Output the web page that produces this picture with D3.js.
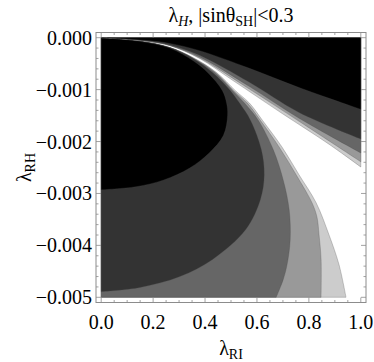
<!DOCTYPE html>
<html><head><meta charset="utf-8">
<script src="https://cdn.jsdelivr.net/npm/d3@7"></script>
<style>body{margin:0;background:#fff} text{font-family:"Liberation Serif","DejaVu Serif",serif}</style>
</head><body>
<script>
// ---- data ----
const xTicks = [0, 0.2, 0.4, 0.6, 0.8, 1.0];
const xTickLabels = ["0.0", "0.2", "0.4", "0.6", "0.8", "1.0"];
const yTicks = [0, -0.001, -0.002, -0.003, -0.004, -0.005];
const yTickLabels = ["0.000", "\u22120.001", "\u22120.002", "\u22120.003", "\u22120.004", "\u22120.005"];
const levelColors = ["#cccccc", "#999999", "#666666", "#333333", "#000000"]; // outer -> inner

// upper (top-right) family: lower boundary of each region, from origin to right edge
const upperCcc = [[0,0],[0.111,-0.00004],[0.188,-0.00008],[0.264,-0.00015],[0.379,-0.0004],[0.506,-0.00082],[0.697,-0.00146],[0.877,-0.00205],[1,-0.00249]];
const upper999 = [[0,0],[0.111,-0.00004],[0.188,-0.00008],[0.264,-0.00015],[0.379,-0.00039],[0.571,-0.00099],[0.762,-0.00161],[1,-0.00239]];
const upper666 = [[0,0],[0.111,-0.00003],[0.188,-0.00007],[0.264,-0.00015],[0.379,-0.00037],[0.571,-0.00094],[0.762,-0.00155],[1,-0.00222]];
const upper333 = [[0,0],[0.111,-0.00003],[0.188,-0.00007],[0.264,-0.00014],[0.379,-0.00034],[0.571,-0.00086],[0.762,-0.00144],[1,-0.00195]];
const upperBlack = [[0,0],[0.111,-0.00003],[0.188,-0.00006],[0.264,-0.00011],[0.379,-0.00025],[0.571,-0.00059],[0.762,-0.00096],[1,-0.00138]];

// lower (bottom-left) family: outer boundary of each region, from origin to bottom/left edge
const lowerCcc = [[0,0],[0.149,-0.00007],[0.264,-0.00019],[0.360,-0.0004],[0.444,-0.00067],[0.517,-0.00102],[0.571,-0.00126],[0.621,-0.00159],[0.697,-0.00211],[0.762,-0.00264],[0.828,-0.00318],[0.877,-0.00379],[0.916,-0.00437],[0.943,-0.005]];
const lower999 = [[0,0],[0.149,-0.00007],[0.264,-0.00019],[0.358,-0.0004],[0.441,-0.00067],[0.510,-0.00102],[0.563,-0.00126],[0.613,-0.00159],[0.686,-0.00211],[0.751,-0.00264],[0.812,-0.00318],[0.831,-0.00345],[0.839,-0.00379],[0.847,-0.00427],[0.847,-0.005]];
const lower666 = [[0,0],[0.149,-0.00007],[0.264,-0.00019],[0.356,-0.0004],[0.437,-0.00067],[0.506,-0.00102],[0.552,-0.00126],[0.605,-0.00159],[0.663,-0.00216],[0.701,-0.00274],[0.724,-0.00331],[0.728,-0.00389],[0.716,-0.00437],[0.701,-0.00466],[0.674,-0.005]];
const lower333 = [[0,0],[0.149,-0.00007],[0.264,-0.00019],[0.354,-0.0004],[0.429,-0.00067],[0.498,-0.00102],[0.533,-0.00126],[0.575,-0.00159],[0.617,-0.00216],[0.628,-0.00264],[0.613,-0.00312],[0.556,-0.0037],[0.429,-0.00427],[0.303,-0.0046],[0.149,-0.00481],[0,-0.00489]];
const lowerBlack = [[0,0],[0.149,-0.00007],[0.264,-0.0002],[0.356,-0.00045],[0.410,-0.00067],[0.467,-0.00102],[0.483,-0.00126],[0.487,-0.00149],[0.471,-0.00188],[0.416,-0.00222],[0.341,-0.00251],[0.241,-0.00274],[0.134,-0.00287],[0,-0.00293]];

const upperFamily = [upperCcc, upper999, upper666, upper333, upperBlack];
const lowerFamily = [lowerCcc, lower999, lower666, lower333, lowerBlack];
const xDomain = [0, 1], yDomain = [-0.005, 0];

// ---- drawing ----
const W = 374, H = 362;
const FONT = '"Liberation Serif","DejaVu Serif",serif';
const svg = d3.select("body").append("svg").attr("width", W).attr("height", H);

const pad = 0.02;
const x = d3.scaleLinear().domain([xDomain[0] - pad * (xDomain[1]-xDomain[0]), xDomain[1] + pad * (xDomain[1]-xDomain[0])]).range([96, 366]);
const y = d3.scaleLinear().domain([yDomain[1] + pad * (yDomain[1]-yDomain[0]), yDomain[0] - pad * (yDomain[1]-yDomain[0])]).range([32.5, 302.5]);

const line = d3.line().x(d => x(d[0])).y(d => y(d[1])).curve(d3.curveCatmullRom.alpha(0.5));
const P = (a, b) => "L" + x(a) + "," + y(b);
const edge = "rgba(70,70,70,0.45)";

const regions = svg.append("g");
lowerFamily.forEach((pts, i) => {
  const last = pts[pts.length - 1];
  let d = line(pts);
  if (last[1] <= yDomain[0] && last[0] > xDomain[0]) d += P(xDomain[0], yDomain[0]);
  d += "Z";
  regions.append("path").attr("d", d).attr("fill", levelColors[i])
    .attr("stroke", edge).attr("stroke-width", 0.6);
});
upperFamily.forEach((pts, i) => {
  let d = line(pts) + P(xDomain[1], yDomain[1]) + "Z";
  regions.append("path").attr("d", d).attr("fill", levelColors[i])
    .attr("stroke", edge).attr("stroke-width", 0.6);
});

// frame
const fc = "#8c8c8c";
const [X0, X1] = x.range(), [Y0, Y1] = y.range();
svg.append("rect").attr("x", X0).attr("y", Y0).attr("width", X1 - X0).attr("height", Y1 - Y0)
  .attr("fill", "none").attr("stroke", fc).attr("stroke-width", 1);

const ticks = svg.append("g").attr("stroke", fc).attr("stroke-width", 0.8);
const xMinor = d3.range(0, 1.0001, 0.05);
const yMinor = d3.range(0, -0.00500001, -0.0002);
const isMajor = (v, arr) => arr.some(t => Math.abs(t - v) < 1e-9);
xMinor.forEach(v => {
  const L = isMajor(v, xTicks) ? 5 : 2.5;
  ticks.append("line").attr("x1", x(v)).attr("x2", x(v)).attr("y1", Y1).attr("y2", Y1 - L);
  ticks.append("line").attr("x1", x(v)).attr("x2", x(v)).attr("y1", Y0).attr("y2", Y0 + L);
});
yMinor.forEach(v => {
  const L = isMajor(v, yTicks) ? 5 : 2.5;
  ticks.append("line").attr("y1", y(v)).attr("y2", y(v)).attr("x1", X0).attr("x2", X0 + L);
  ticks.append("line").attr("y1", y(v)).attr("y2", y(v)).attr("x1", X1).attr("x2", X1 - L);
});

// tick labels
xTicks.forEach((v, i) => {
  svg.append("text").attr("x", x(v)).attr("y", 329).attr("text-anchor", "middle")
    .attr("font-family", FONT).attr("font-size", 20).text(xTickLabels[i]);
});
yTicks.forEach((v, i) => {
  svg.append("text").attr("x", 92).attr("y", y(v) + 7).attr("text-anchor", "end")
    .attr("font-family", FONT).attr("font-size", 20).text(yTickLabels[i]);
});

// axis labels
const xl = svg.append("text").attr("x", x(0.5)).attr("y", 355).attr("text-anchor", "middle")
  .attr("font-family", FONT).attr("font-size", 20);
xl.append("tspan").text("\u03bb");
xl.append("tspan").attr("font-size", 14).attr("dy", 4).text("RI");

const yl = svg.append("text").attr("transform", `translate(31,${y(-0.0025)}) rotate(-90)`)
  .attr("text-anchor", "middle").attr("font-family", FONT).attr("font-size", 20);
yl.append("tspan").text("\u03bb");
yl.append("tspan").attr("font-size", 14).attr("dy", 4).text("RH");

// title
const t = svg.append("text").attr("x", x(0.5)).attr("y", 22).attr("text-anchor", "middle")
  .attr("font-family", FONT).attr("font-size", 20);
t.append("tspan").text("\u03bb");
t.append("tspan").attr("font-size", 14).attr("dy", 4).attr("font-style", "italic").text("H");
t.append("tspan").attr("dy", -4).text(", |sin\u03b8");
t.append("tspan").attr("font-size", 14).attr("dy", 4).text("SH");
t.append("tspan").attr("dy", -4).text("|<0.3");
</script>
</body></html>
